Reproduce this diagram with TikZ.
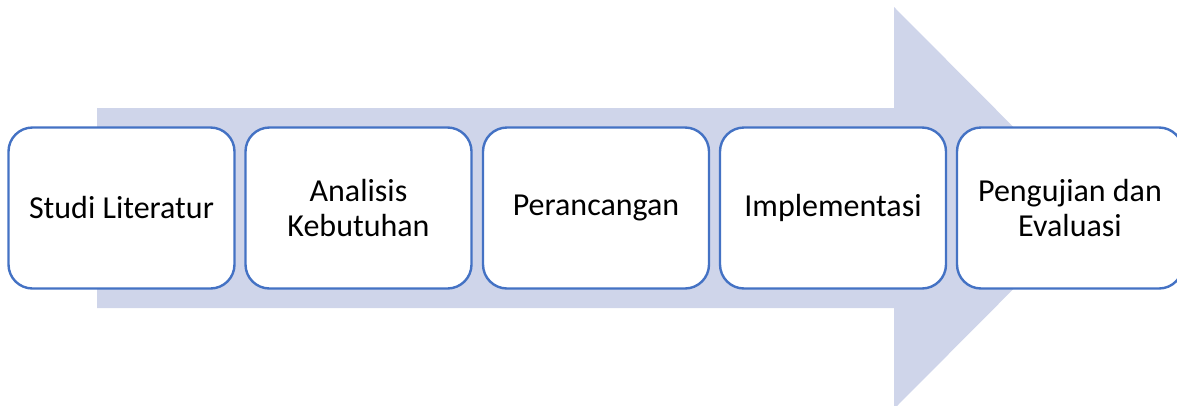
\documentclass[tikz,border=0pt]{standalone}
\usepackage{fontspec}
\setmainfont{Carlito}
\definecolor{arrowfill}{HTML}{CFD5EA}
\definecolor{boxline}{HTML}{4472C4}
\begin{document}
\begin{tikzpicture}[x=1pt,y=-1pt,
  stepbox/.style={draw=boxline, line width=2.4pt, fill=white, rounded corners=24pt,
    minimum width=226pt, minimum height=161pt, inner sep=0pt, align=center,
    font=\fontsize{32}{35}\selectfont, text=black}]
\useasboundingbox (0,0) rectangle (1177,405);
\begin{scope}
\clip (0,0) rectangle (1177,405);
\fill[arrowfill] (97,108) -- (894,108) -- (894,7) -- (1094,208) -- (894,409) -- (894,308) -- (97,308) -- cycle;
\node[stepbox] (s1) at (121.5,208) {Studi Literatur};
\node[stepbox] (s2) at (358.5,208) {Analisis\\Kebutuhan};
\node[stepbox] (s3) at (596,208) {Perancangan};
\node[stepbox] (s4) at (833,208) {Implementasi};
\node[stepbox] (s5) at (1070,208) {Pengujian dan\\Evaluasi};
\end{scope}
\end{tikzpicture}
\end{document}
